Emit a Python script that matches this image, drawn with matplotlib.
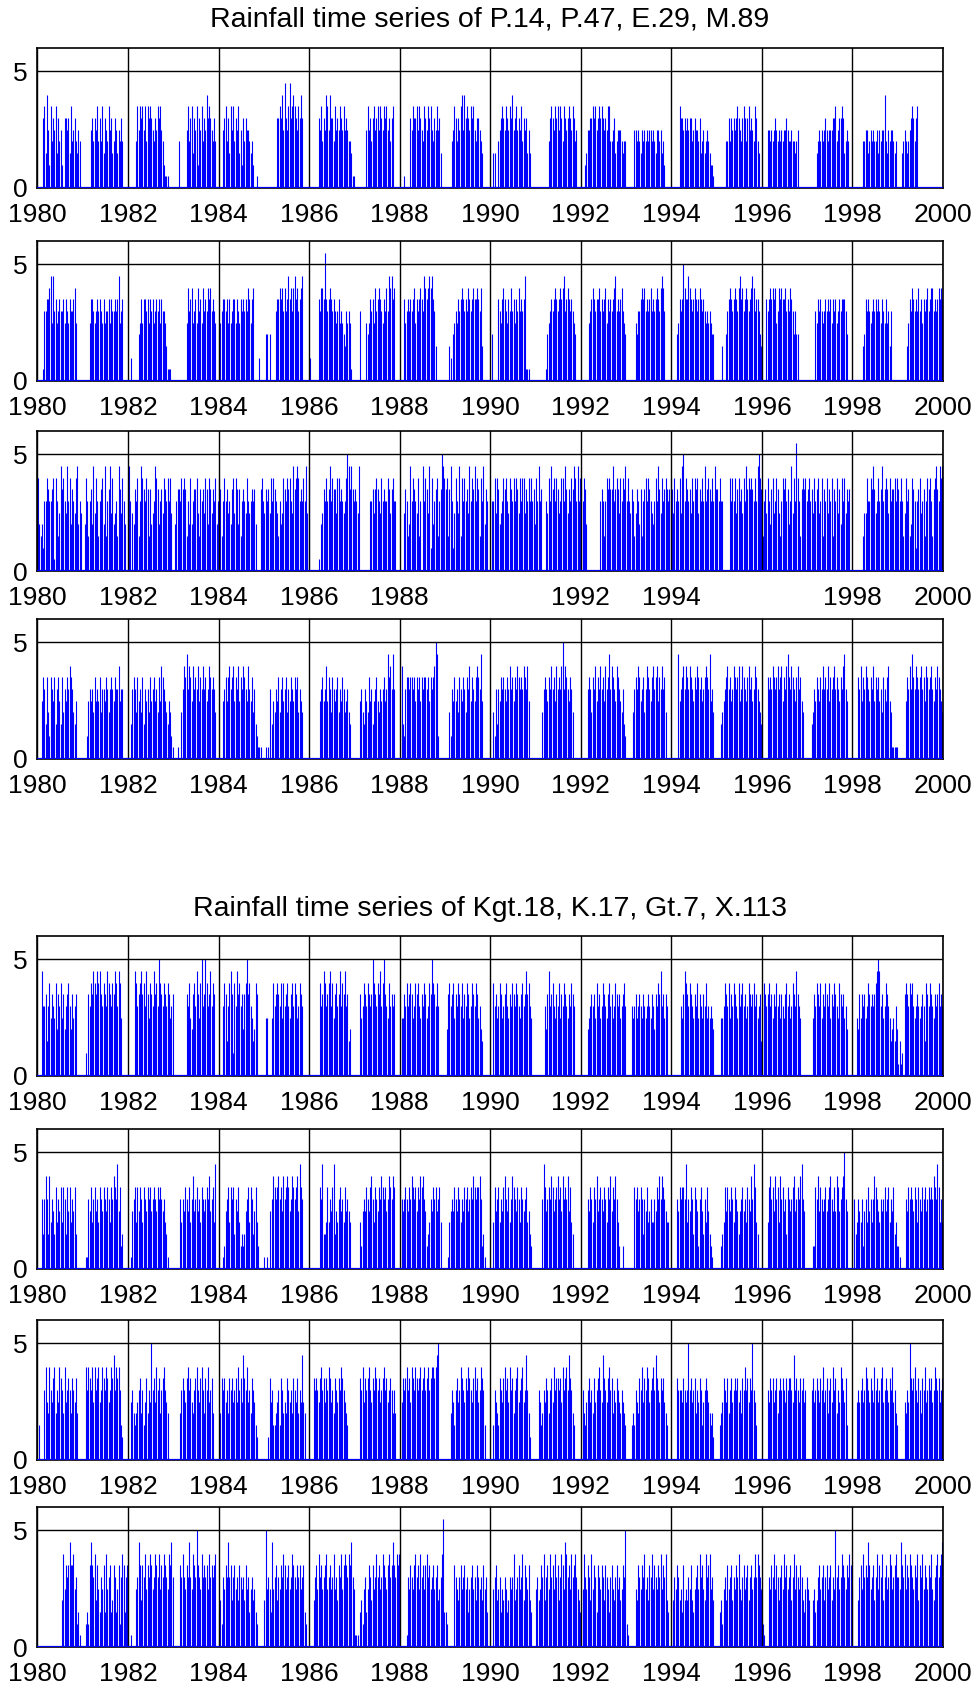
import matplotlib
matplotlib.use('Agg')
import matplotlib.pyplot as plt
import numpy as np

plt.rcParams['font.family'] = ['Liberation Sans', 'DejaVu Sans']

# time axis: 20 years, 36 dekads per year
years = list(range(1980, 2000))
xticks = list(range(1980, 2001, 2))
yticks = [0, 5]
titles = ['Rainfall time series of P.14, P.47, E.29, M.89',
          'Rainfall time series of Kgt.18, K.17, Gt.7, X.113']

# dekadal peak rainfall (transformed), one string per year, digit = value*2, A=5.0, B=5.5
p14 = ["000067385274657364520665637456435400",
       "000000564657464736547563465354640000",
       "000000475767574767654657675421110000",
       "000040000057467365726574658676546400",
       "000567463757465735264655434200100000",
       "000000000066768596579678765768600000",
       "000000065746587586647565765756544311",
       "000000000575646756757657675646700000",
       "000100006576675765476576754657563000",
       "000004576465785867657675466543000000",
       "003300456765765768567565746563530000",
       "000000000046765767576476567657645000",
       "000235566767567676565774456345554344",
       "000000554543545454554543554534200000",
       "000000766565656645655463453454322100",
       "000000044646565676546764675654764300",
       "000055454565454545565445443450000000",
       "000000034545456545556674566763454000",
       "000000004455345454453545584354554340",
       "0003454345676467"]
p47 = ["000016677895967567667576576678500000",
       "000005776567676575667576676795670000",
       "002000004575776757675676757665311100",
       "000000000058678567586758676878676500",
       "456776757567757657676768757800002000",
       "044040000677878686797868978678900000",
       "200000076887B76787676567565436565100",
       "000060000545767586787657686989780000",
       "000756767678576787698789897630000000",
       "000320456576787676876787787683000000",
       "040000765787657686757686767911100000",
       "000000001456767876787896787676540000",
       "000000" "567876778676785767678967678654",
       "0000000" "546678786767867678768986" "00000",
       "0000" "45767A877987678767876765656544" "00",
       "0000300" "46787678768978678767898677643",
       "000" "76787878568787786768764644" "0000000",
       "000000" "65767656767675767567677764" "0000",
       "00000000" "34767656767676576575636" "00000",
       "0000000" "35768767686757678678867678787"]
e29 = ["843426687667818635978659684765894650",
       "048636749586367849367958456397586400",
       "960547683698768737456987467587686850",
       "046776878736484677853767587487576846",
       "873686756478587473676586567674000786",
       "576758687653645876878659789867686958",
       "000000010457686796877588676568A97976",
       "765900000000667578765867668757866000",
       "000576349687658360968759284678367A98",
       "783796258659386867596879687386947600",
       "066858745687865876868758688576868674",
       "869670006586978687568869757687986968",
       "768740000000000676368787796787586879",
       "686576357647367868765468697586787678",
       "758676859A68767586878576869678768697",
       "768660000086868578675869787876869A87",
       "367586478568753687867469586B86378786",
       "786758678568376857683768574868576700",
       "000000003558668797568679678758677868",
       "768635867348762678567368786378976989"]
m89 = ["000" "5763742765736753746576876435" "00000",
       "000" "25656475657466576467657668566" "0000",
       "00" "3676475647365647567564758765435421",
       "000100" "4687968758676857686756876764" "00",
       "000" "5675786785768576876586574632" "11100",
       "0" "101603546574675674657657674654" "00000",
       "00000000" "5675685764765674657645643" "000",
       "0000" "5643654756356754656756978696" "0000",
       "0" "832677677675767576776757678A92" "00000",
       "000" "426575647657647685765787695" "000000",
       "00" "42636576765768675768767687685" "00000",
       "00000" "4676576867586768A68765764" "000000",
       "00000" "6764768576867586796876587654632",
       "00000" "467687567468765786785768674" "0000",
       "00000" "95678687687657687675678769564" "00",
       "000" "345678675687678568765786756876543",
       "0000" "76768767867857689768765786754" "000",
       "000" "34657657686768576786765768965" "0000",
       "0000" "768576876576857675647657854" "11111",
       "000000" "576869768767867587678657687654"]
kgt18 = ["000" "9667368576584768574678647567" "00000",
         "00" "20768798798976876987687986985" "00000",
         "00000" "9867897869758769786A87687687567",
         "0000000000" "768547869758A67A8679687" "000",
         "000" "6873689728697867478A78653487" "00000",
         "0" "550005867876858678657868756876" "00000",
         "00000000" "8679867896857867968796734" "000",
         "0000" "7568768767A87687968A76586767" "0000",
         "0" "557686787568786576875687A87686" "00000",
         "047867857687685768756876875643" "000000",
         "00" "8675687567865768768765786797865" "000",
         "0000000" "647967865768576876576876" "00000",
         "00000" "4567675867568765786756876756786",
         "0000" "65675676576567657647687967576" "000",
         "0000000" "657987687657685765768565654" "00",
         "000" "556876857687658678675687678675673",
         "0" "876786757686757657867568769765" "00000",
         "0000" "5768768576876857687658767564" "0000",
         "000" "54757675687676789A967568765345364",
         "13120" "7876878656765676387687657678676"]
k17 = ["000" "6368638465374657476375746573" "00000",
       "00" "116574675647657657647687695723" "0000",
       "00" "156747576476576756765767656431" "0000",
       "00000" "64657657468567564765676856749" "00",
       "0001" "2567476736574232356747635742" "0000",
       "1" "010506876786758678756876785976" "00000",
       "00000000" "7693347465793546756475654" "000",
       "0000" "4256576578647657687675687687" "0000",
       "0" "65676576876757687865234657675674" "000",
       "00" "145657657646576756768767786231" "0000",
       "00" "4756746578657468765764765674532" "000",
       "00000" "6975676875678675867685743" "000000",
       "00000" "65764768567657647685768642" "00200",
       "000000" "7675676365745644657686876544" "00",
       "0000" "657677694657637652675364753210" "00",
       "000" "234757657647653567564765869743" "000",
       "0000" "478675867486756376567856768965" "00",
       "0000" "2276857656756786575875678A65" "0000",
       "0" "63465462564756468765465675674657342",
       "210000" "657676576476576756767687697464"]
gt7 = ["03000" "685486578465876485676476574" "0000",
       "00" "868768586785687687568796878632" "0000",
       "00" "5643456746357465A6758674678654" "0000",
       "00000" "467657867546786578647685674" "0000",
       "0" "476756476756758675976856476532" "00000",
       "0" "00275633456376454765647657465954" "000",
       "000" "7676578675768756476576876543" "00000",
       "0000" "76857678657687675678675676464" "000",
       "0" "57678675876876786786786788789A" "00000",
       "0000" "4653675687657687657867568763" "0000",
       "00" "365437657867586746785678569642" "0000",
       "00" "65346576467586776758678697643" "00000",
       "0" "64356756475678659765786746576546543",
       "0000" "34365476857687567869765767543" "000",
       "0000" "766657656A67567465763567654342" "00",
       "00" "34576574675676756476867576A653" "0000",
       "0000" "6576756746767657677659676576756" "0",
       "000" "67567657685674675867465876573" "0000",
       "000" "565675687657658675678567657685643",
       "00000" "5465A76786576476856767568767567"]
x113 = ["0000000000000000000" "485767977856231" "00",
        "00" "2327976847536573856734763572687367",
        "001000" "569747685768756876857687658796",
        "00000" "7686576965876A765867675867678" "00",
        "3426576967467564765647563564532" "00000",
        "4A56539567465768756756876576756732" "00",
        "000" "467586756785675685647685787687965",
        "1110" "34256357647568675687657867976878",
        "00000" "16576578675867578675675674568B3",
        "3200000" "765467567563567564765647563" "00",
        "00" "5674563546534656845675684765743" "000",
        "564576846758675867468759867586786543",
        "0" "5865764857637657647653675467564576A",
        "2100000" "547657685647685765768576843" "00",
        "0" "465764537454657435675867548678564" "00",
        "00" "3425647567465768546756746756868765",
        "21000" "6576857646758675674685765764356",
        "5400" "453467567467567465A6756876576875",
        "0000" "46758676975674685768467568756786",
        "659768576876576847685765768546786789"]

panels = [p14, p47, e29, m89, kgt18, k17, gt7, x113]
hidden = {2: [1990, 1996]}  # labels missing in the third panel


def decode(rows):
    out = []
    for r in rows:
        r = r.ljust(36, '0')[:36]
        for c in r:
            if c == 'A':
                out.append(5.0)
            elif c == 'B':
                out.append(5.5)
            else:
                out.append(int(c) * 0.5)
    return np.array(out)


t = np.array([y + (k + 0.5) / 36 for y in years for k in range(36)])

fig = plt.figure(figsize=(9.76, 16.87), dpi=100)
left, width, height = 0.0384, 0.9278, 0.0830
bottoms = [0.8886, 0.7742, 0.6615, 0.5501, 0.3622, 0.2478, 0.1346, 0.0237]

for i, rows in enumerate(panels):
    v = decode(rows)
    ax = fig.add_axes([left, bottoms[i], width, height])
    ax.vlines(t, 0, v, colors='#0000ff', linewidth=0.8)
    ax.axhline(0, color='#0000ff', lw=1.6, zorder=3)
    ax.set_xlim(1980, 2000)
    ax.set_ylim(0, 6)
    ax.set_xticks(xticks)
    ax.set_xticklabels(['' if x in hidden.get(i, []) else str(x) for x in xticks])
    ax.set_yticks(yticks)
    ax.grid(True, color='black', lw=1.0)
    ax.set_axisbelow(False)
    ax.tick_params(axis='both', direction='in', length=0, labelsize=19)
    ax.tick_params(axis='x', pad=11)
    ax.tick_params(axis='y', pad=7)
    for s in ax.spines.values():
        s.set_linewidth(1.2)

fig.text(0.502, 0.9887, titles[0], ha='center', va='center', fontsize=20.5)
fig.text(0.502, 0.4613, titles[1], ha='center', va='center', fontsize=20.5)

fig.savefig('out.png', dpi=100)
